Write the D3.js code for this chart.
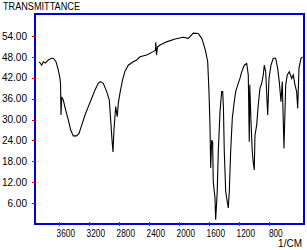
<!DOCTYPE html>
<html>
<head>
    <title>IR spectrum</title>
    <style type="text/css">
        html, body { margin: 0; padding: 0; background: #fff; }
        svg { display: block; }
        text { font-family: "Liberation Sans", Arial, sans-serif; font-size: 10px; fill: #000; }
    </style>
</head>
<body>
<div id="chart"></div>
<script src="https://cdnjs.cloudflare.com/ajax/libs/d3/7.8.5/d3.min.js"></script>
<script>

// wavenumber (1/cm) and transmittance
var wavenumbers = [3867,3835,3813,3784,3747,3701,3680,3644,3613,3591,3584,3577,3568,3547,3515,3480,3448,3413,3368,3337,
    3301,3257,3213,3168,3124,3080,3053,3013,2968,2933,2915,2897,2884,2871,2848,2827,2813,2791,2757,2724,
    2680,2613,2568,2524,2435,2347,2317,2313,2304,2291,2257,2168,2057,1947,1880,1813,1747,1701,1680,1648,
    1621,1604,1591,1581,1568,1555,1547,1524,1515,1494,1480,1457,1435,1421,1411,1400,1381,1360,1347,1333,
    1315,1293,1267,1248,1221,1191,1168,1133,1101,1080,1067,1060,1057,1044,1027,1013,1000,991,968,947,924,901,
    880,867,848,821,804,777,747,715,688,667,644,627,604,581,560,533,501,480,457,435,
    421,404,377,357];
var transmittance = [46.6,45.6,46.6,46.2,47.1,47.6,47.6,46.6,44.2,41.8,40.5,31.3,36.5,35.6,32.7,29.9,27.0,25.3,25.3,26.0,
    28.4,31.3,33.7,36.1,38.5,40.4,40.9,40.4,38.0,35.6,29.9,24.1,20.7,27.0,33.7,30.8,34.7,37.6,41.3,43.9,
    45.6,46.6,47.1,48.0,48.5,49.5,49.9,52.2,48.5,50.8,51.4,52.3,53.1,53.6,53.3,54.8,54.7,53.3,52.0,49.5,
    46.6,38.0,28.4,16.1,24.1,23.5,12.1,7.5,1.2,9.3,20.8,32.2,38.0,38.0,33.2,20.8,9.3,6.4,4.6,9.3,
    20.8,30.4,35.1,38.0,39.9,41.8,43.7,45.6,46.1,42.8,23.6,40.0,38.0,29.4,20.8,17.5,15.5,25.5,28.4,34.2,39.0,40.4,
    42.8,45.6,43.7,31.3,41.8,45.6,47.6,47.6,44.7,40.9,35.1,40.9,21.7,39.9,42.8,43.7,41.8,42.8,39.9,38.0,
    33.2,44.7,47.6,48.0];

var xTicks = [3600, 3200, 2800, 2400, 2000, 1600, 1200, 800];
var yTicks = [6, 12, 18, 24, 30, 36, 42, 48, 54];

var width = 307, height = 250;

var svg = d3.select("#chart").append("svg")
    .attr("width", width)
    .attr("height", height);

var x = d3.scaleLinear().domain([3924, 337]).range([35, 304]);
var y = d3.scaleLinear().domain([0, 60.3]).range([224, 14]);

// frame
svg.append("rect")
    .attr("x", 35).attr("y", 14)
    .attr("width", 269).attr("height", 210)
    .style("fill", "none")
    .style("stroke", "#0000d8")
    .style("stroke-width", 2)
    .style("shape-rendering", "crispEdges");

// spectrum
var pts = wavenumbers.map(function(w, i) { return [w, transmittance[i]]; });
var line = d3.line()
    .x(function(d) { return x(d[0]); })
    .y(function(d) { return y(d[1]); });

svg.append("path")
    .datum(pts)
    .attr("d", line)
    .style("fill", "none")
    .style("stroke", "#000")
    .style("stroke-width", 1.1)
    .style("stroke-linejoin", "miter");

// y axis
var yAxis = d3.axisLeft(y)
    .tickValues(yTicks)
    .tickSize(3)
    .tickPadding(5)
    .tickFormat(d3.format(".2f"));

var gy = svg.append("g").attr("transform", "translate(35,0)").call(yAxis);
gy.select(".domain").remove();
gy.selectAll(".tick line").style("stroke", "#e00000").style("shape-rendering", "crispEdges");
gy.selectAll(".tick text").style("font-size", "10px").style("font-family", "Liberation Sans, Arial, sans-serif");

// x axis
var xAxis = d3.axisBottom(x)
    .tickValues(xTicks)
    .tickSize(3)
    .tickPadding(4)
    .tickFormat(d3.format("d"));

var gx = svg.append("g").attr("transform", "translate(0,223)").call(xAxis);
gx.select(".domain").remove();
gx.selectAll(".tick line").attr("y1", -1).attr("y2", 3).style("stroke", "#e00000").style("shape-rendering", "crispEdges");
gx.selectAll(".tick text")
    .attr("dx", 6)
    .attr("textLength", function(d) { return String(d).length * 4.6; })
    .attr("lengthAdjust", "spacingAndGlyphs")
    .style("font-size", "10px")
    .style("font-family", "Liberation Sans, Arial, sans-serif");

// titles
svg.append("text")
    .attr("x", 3).attr("y", 10)
    .attr("textLength", 77)
    .attr("lengthAdjust", "spacingAndGlyphs")
    .text("TRANSMITTANCE");

svg.append("text")
    .attr("x", 302).attr("y", 247)
    .attr("text-anchor", "end")
    .text("1/CM");

</script>
</body>
</html>
